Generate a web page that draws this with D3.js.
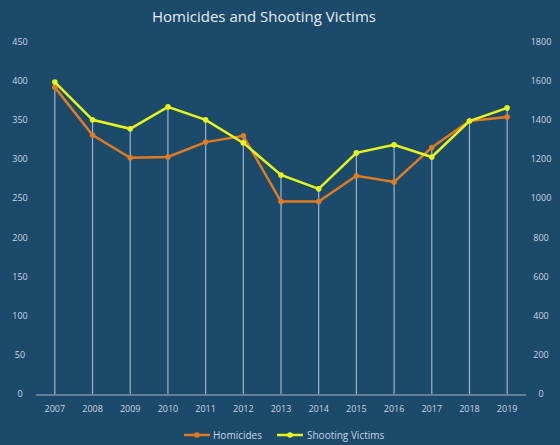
<!DOCTYPE html>
<html><head><meta charset="utf-8">
<script src="https://cdn.jsdelivr.net/npm/d3@7"></script>
<style>body{margin:0;background:#1b4a6b}svg{display:block}</style>
</head><body><svg id="c" width="560" height="445"></svg>
<script>
const years = ["2007","2008","2009","2010","2011","2012","2013","2014","2015","2016","2017","2018","2019"];
const homicides = [392,331,302,303,322,330,246,246,279,271,315,349,354];
const shootingVictims = [1595,1402,1356,1468,1402,1284,1120,1049,1233,1274,1212,1396,1463];
const leftTicks = [0,50,100,150,200,250,300,350,400,450];
const rightTicks = [0,200,400,600,800,1000,1200,1400,1600,1800];

(function(){
const svg = d3.select("#c");
const bg = "#1b4a6b";
svg.append("rect").attr("width",560).attr("height",445).attr("fill",bg);
const pLeft=36, pRight=526, pTop=42, pBottom=394;
const x = d3.scaleBand().domain(years).range([pLeft,pRight]);
const yL = d3.scaleLinear().domain([0,450]).range([pBottom,pTop]);
const yR = d3.scaleLinear().domain([0,1800]).range([pBottom,pTop]);
const cx = d => x(d)+x.bandwidth()/2;
const font = "'Open Sans', 'DejaVu Sans', sans-serif";
const txt = "#c9d6e2";

svg.append("text").attr("x",264).attr("y",22).attr("text-anchor","middle")
  .attr("fill","#e6edf3").attr("font-family",font).attr("font-size",15).text("Homicides and Shooting Victims");

svg.append("g").selectAll("text").data(leftTicks).join("text")
  .attr("x",20).attr("y",d=>yL(d)+3).attr("text-anchor","middle")
  .attr("fill",txt).attr("font-family",font).attr("font-size",9).text(d=>d);
svg.append("g").selectAll("text").data(rightTicks).join("text")
  .attr("x",541).attr("y",d=>yR(d)+3).attr("text-anchor","middle")
  .attr("fill",txt).attr("font-family",font).attr("font-size",9).text(d=>d);

svg.append("g").selectAll("line").data(years).join("line")
  .attr("x1",cx).attr("x2",cx)
  .attr("y1",(d,i)=>Math.min(yL(homicides[i]), yR(shootingVictims[i])))
  .attr("y2",pBottom).attr("stroke","#9fb3c6").attr("stroke-width",1.2);

svg.append("line").attr("x1",pLeft).attr("x2",pRight).attr("y1",pBottom+1).attr("y2",pBottom+1)
  .attr("stroke","#9fb3c6").attr("stroke-width",1.2);
svg.append("g").selectAll("text").data(years).join("text")
  .attr("x",cx).attr("y",412).attr("text-anchor","middle")
  .attr("fill",txt).attr("font-family",font).attr("font-size",9).text(d=>d);

const orange="#e07b22", yellow="#e8f51c";
const lineH = d3.line().x((d,i)=>cx(years[i])).y(d=>yL(d));
const lineS = d3.line().x((d,i)=>cx(years[i])).y(d=>yR(d));
svg.append("path").attr("d",lineH(homicides)).attr("fill","none").attr("stroke",orange).attr("stroke-width",2.5);
svg.append("g").selectAll("circle").data(homicides).join("circle")
  .attr("cx",(d,i)=>cx(years[i])).attr("cy",d=>yL(d)).attr("r",2.8).attr("fill",orange);
svg.append("path").attr("d",lineS(shootingVictims)).attr("fill","none").attr("stroke",yellow).attr("stroke-width",2.5);
svg.append("g").selectAll("circle").data(shootingVictims).join("circle")
  .attr("cx",(d,i)=>cx(years[i])).attr("cy",d=>yR(d)).attr("r",2.8).attr("fill",yellow);

const lg = svg.append("g");
[["Homicides",orange,184,213],["Shooting Victims",yellow,277,307]].forEach(([t,c,lx,tx])=>{
  lg.append("line").attr("x1",lx).attr("x2",lx+26).attr("y1",435).attr("y2",435).attr("stroke",c).attr("stroke-width",2.5);
  lg.append("circle").attr("cx",lx+13).attr("cy",435).attr("r",2.8).attr("fill",c);
  lg.append("text").attr("x",tx).attr("y",438.5).attr("fill",txt).attr("font-family",font).attr("font-size",10).text(t);
});
})();
</script></body></html>
